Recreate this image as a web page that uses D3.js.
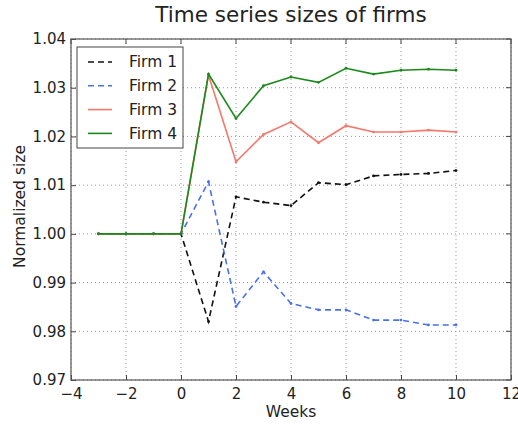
<!DOCTYPE html>
<html>
<head>
<meta charset="utf-8">
<script src="https://cdn.jsdelivr.net/npm/d3@7"></script>
<style>
  body { margin: 0; background: #fff; }
  text { font-family: "DejaVu Sans", sans-serif; fill: #222; }
</style>
</head>
<body>
<div id="chart"></div>
<script>
// data
const weeks = [-3, -2, -1, 0, 1, 2, 3, 4, 5, 6, 7, 8, 9, 10];
const firm1 = [1, 1, 1, 1, 0.9820, 1.0076, 1.0065, 1.0058, 1.0105, 1.0101, 1.0119, 1.0122, 1.0124, 1.0130];
const firm2 = [1, 1, 1, 1, 1.0107, 0.9851, 0.9922, 0.9857, 0.9844, 0.9844, 0.9823, 0.9823, 0.9813, 0.9813];
const firm3 = [1, 1, 1, 1, 1.0326, 1.0148, 1.0204, 1.0230, 1.0187, 1.0222, 1.0209, 1.0209, 1.0213, 1.0209];
const firm4 = [1, 1, 1, 1, 1.0328, 1.0237, 1.0304, 1.0322, 1.0311, 1.0340, 1.0328, 1.0336, 1.0338, 1.0336];
const xTicks = [-4, -2, 0, 2, 4, 6, 8, 10, 12];
const yTicks = [0.97, 0.98, 0.99, 1.00, 1.01, 1.02, 1.03, 1.04];

const series = [
  { name: 'Firm 1', values: firm1, color: '#111', dash: '6,4' },
  { name: 'Firm 2', values: firm2, color: '#4a72e8', dash: '6,4' },
  { name: 'Firm 3', values: firm3, color: '#f8776b', dash: null },
  { name: 'Firm 4', values: firm4, color: '#1a8a1a', dash: null },
];

const width = 518, height = 424;
const margin = { top: 39, right: 7, bottom: 44, left: 71 };
const iw = width - margin.left - margin.right;
const ih = height - margin.top - margin.bottom;

const svg = d3.select('#chart').append('svg')
  .attr('width', width).attr('height', height);

const g = svg.append('g').attr('transform', `translate(${margin.left},${margin.top})`);

const x = d3.scaleLinear().domain([-4, 12]).range([0, iw]);
const y = d3.scaleLinear().domain([0.97, 1.04]).range([ih, 0]);

// grid
g.append('g').selectAll('line').data(xTicks).join('line')
  .attr('x1', d => x(d)).attr('x2', d => x(d)).attr('y1', 0).attr('y2', ih)
  .attr('stroke', '#999').attr('stroke-dasharray', '1,3');
g.append('g').selectAll('line').data(yTicks).join('line')
  .attr('y1', d => y(d)).attr('y2', d => y(d)).attr('x1', 0).attr('x2', iw)
  .attr('stroke', '#999').attr('stroke-dasharray', '1,3');

// axes, ticks inward
const xAxis = g.append('g').attr('transform', `translate(0,${ih})`)
  .call(d3.axisBottom(x).tickValues(xTicks).tickSize(-5).tickPadding(8)
    .tickFormat(d => d < 0 ? '\u2212' + Math.abs(d) : d));
const yAxis = g.append('g')
  .call(d3.axisLeft(y).tickValues(yTicks).tickSize(-5).tickPadding(5).tickFormat(d3.format('.2f')));
[xAxis, yAxis].forEach(a => {
  a.select('.domain').remove();
  a.selectAll('line').attr('stroke', '#444');
  a.selectAll('text').style('font-size', '15px').attr('fill', '#222');
});

// top/right ticks
g.append('g').selectAll('line').data(xTicks).join('line')
  .attr('x1', d => x(d)).attr('x2', d => x(d)).attr('y1', 0).attr('y2', 5).attr('stroke', '#444');
g.append('g').selectAll('line').data(yTicks).join('line')
  .attr('y1', d => y(d)).attr('y2', d => y(d)).attr('x1', iw).attr('x2', iw - 5).attr('stroke', '#444');

// lines
const line = d3.line().x((d, i) => x(weeks[i])).y(d => y(d));
series.forEach(s => {
  g.append('path').datum(s.values)
    .attr('fill', 'none').attr('stroke', s.color).attr('stroke-width', 1.6)
    .attr('stroke-dasharray', s.dash).attr('d', line);
  g.append('g').selectAll('circle').data(s.values).join('circle')
    .attr('cx', (d, i) => x(weeks[i])).attr('cy', d => y(d)).attr('r', 1.4)
    .attr('fill', s.color);
});

// frame
g.append('rect').attr('width', iw).attr('height', ih)
  .attr('fill', 'none').attr('stroke', '#555').attr('stroke-width', 1.2);

// legend
const lg = g.append('g').attr('transform', 'translate(6,8)');
lg.append('rect').attr('width', 106).attr('height', 101)
  .attr('fill', '#fff').attr('stroke', '#444').attr('stroke-width', 1);
series.forEach((s, i) => {
  const yy = 15 + i * 23.8;
  lg.append('line').attr('x1', 11).attr('x2', 35).attr('y1', yy).attr('y2', yy)
    .attr('stroke', s.color).attr('stroke-width', 1.6).attr('stroke-dasharray', s.dash);
  lg.append('text').attr('x', 52).attr('y', yy).attr('dy', '0.35em')
    .style('font-size', '15.5px').text(s.name);
});

// labels
svg.append('text').attr('x', margin.left + iw / 2).attr('y', 22)
  .attr('text-anchor', 'middle').style('font-size', '21.5px').attr('fill', '#111')
  .text('Time series sizes of firms');
svg.append('text').attr('x', margin.left + iw / 2).attr('y', 417)
  .attr('text-anchor', 'middle').style('font-size', '15.5px').text('Weeks');
svg.append('text').attr('transform', `translate(25,${margin.top + ih / 2 - 3}) rotate(-90)`)
  .attr('text-anchor', 'middle').style('font-size', '15.5px').text('Normalized size');
</script>
</body>
</html>
